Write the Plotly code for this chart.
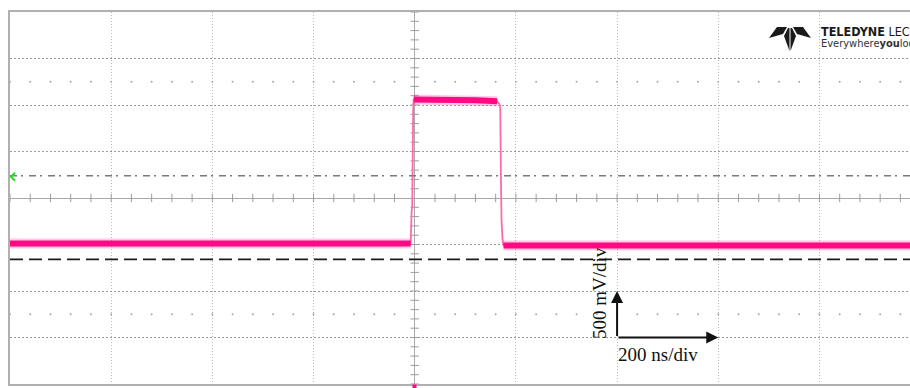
import plotly.graph_objects as go

# ---------------- data ----------------
# time in ns (200 ns/div), voltage in V (500 mV/div)
time_ns = [-800, -8.0, -6.0, -5.0, -3.0, -2.0, 60, 120, 163, 166, 169, 170.5, 171.5, 173.5, 175.5, 979]
volts   = [-0.49, -0.49, -0.13, -0.10, 0.95, 1.06, 1.06, 1.05, 1.04, 1.02, 0.99, 0.20, -0.23, -0.44, -0.51, -0.51]

# flat (noisy) portions of the trace, as index ranges into the arrays above
flat_segments = [(0, 1), (5, 8), (14, 15)]

ref_dashdot_v = 0.24     # dash-dot threshold line
ref_dashed_v = -0.66     # long-dashed reference line
scale_origin = (400, -1.5)   # (ns, V) corner of the scale arrows
ns_per_div = 200
v_per_div = 0.5
x_range = [-800, 979]
y_range = [-2.0, 2.0]
label_v = "500 mV/div"
label_t = "200 ns/div"

W, H = 910, 388
L, R, T, B = 10, 0, 12, 4

def paper_x(px):
    return (px - L) / (W - L - R)

def paper_y(py):
    return (H - B - py) / (H - T - B)

fig = go.Figure()

# minor ticks on the centre axes and dot rows
minor_t = [ns_per_div / 5 * k for k in range(-20, 25) if k != 0]
minor_v = [v_per_div / 5 * k for k in range(-20, 21) if k != 0]
fig.add_trace(go.Scatter(x=minor_t, y=[0] * len(minor_t), mode="markers",
                         marker=dict(symbol="line-ns", size=6, line=dict(width=1, color="#9c9c9c")),
                         hoverinfo="skip", showlegend=False))
fig.add_trace(go.Scatter(x=[0] * len(minor_v), y=minor_v, mode="markers",
                         marker=dict(symbol="line-ew", size=6, line=dict(width=1, color="#9c9c9c")),
                         hoverinfo="skip", showlegend=False))
for yv in (2.5 * v_per_div, -2.5 * v_per_div):
    fig.add_trace(go.Scatter(x=minor_t, y=[yv] * len(minor_t), mode="markers",
                             marker=dict(symbol="circle", size=2, color="#a8a8a8"),
                             hoverinfo="skip", showlegend=False))

# thin transitions (whole trace)
fig.add_trace(go.Scatter(x=time_ns, y=volts, mode="lines",
                         line=dict(color="#ff6aae", width=1.8),
                         hoverinfo="skip", showlegend=False))

# thick noisy flats
fx, fy = [], []
for a, b in flat_segments:
    fx += time_ns[a:b + 1] + [None]
    fy += volts[a:b + 1] + [None]
fig.add_trace(go.Scatter(x=fx, y=fy, mode="lines",
                         line=dict(color="rgba(255,10,130,0.22)", width=10),
                         hoverinfo="skip", showlegend=False))
fig.add_trace(go.Scatter(x=fx, y=fy, mode="lines",
                         line=dict(color="#ff0a82", width=6),
                         hoverinfo="skip", showlegend=False))

# reference lines
fig.add_shape(type="line", xref="paper", x0=0, x1=1, yref="y", y0=ref_dashdot_v, y1=ref_dashdot_v,
              line=dict(color="#7a7a7a", width=1.5, dash="7px,4px,2px,6px"))
fig.add_shape(type="line", xref="paper", x0=0, x1=1, yref="y", y0=ref_dashed_v, y1=ref_dashed_v,
              line=dict(color="#1c1c1c", width=1.8, dash="13px,6px"))

# green level marker at left
gy = paper_y(176.7)
fig.add_shape(type="path", xref="paper", yref="paper",
              path=f"M {paper_x(15)},{gy + 4/372} L {paper_x(11)},{gy} L {paper_x(15)},{gy - 4/372}",
              line=dict(color="#22dd22", width=2))

# trigger marker at bottom
fig.add_shape(type="rect", xref="paper", yref="paper",
              x0=paper_x(412.5), x1=paper_x(416.5), y0=paper_y(388), y1=paper_y(384.5),
              fillcolor="#ff0a82", line=dict(width=0))

# scale arrows
ox, oy = scale_origin
fig.add_annotation(x=ox, y=oy + v_per_div, ax=ox, ay=oy, xref="x", yref="y", axref="x", ayref="y",
                   showarrow=True, arrowhead=2, arrowsize=1.2, arrowwidth=2, arrowcolor="#111", text="")
fig.add_annotation(x=ox + ns_per_div, y=oy, ax=ox, ay=oy, xref="x", yref="y", axref="x", ayref="y",
                   showarrow=True, arrowhead=2, arrowsize=1.2, arrowwidth=2, arrowcolor="#111", text="")
serif = "Liberation Serif, Times New Roman, serif"
fig.add_annotation(x=paper_x(599), y=paper_y(293), xref="paper", yref="paper", text=label_v,
                   textangle=-90, xanchor="center", yanchor="middle", showarrow=False,
                   font=dict(family=serif, size=19, color="#111"))
fig.add_annotation(x=paper_x(616), y=paper_y(354), xref="paper", yref="paper", text=label_t,
                   xanchor="left", yanchor="middle", showarrow=False,
                   font=dict(family=serif, size=19, color="#111"))

# logo
logo_polys = [
    [(769, 38), (777, 27), (787, 27), (783, 34)],
    [(784, 36), (788, 28), (789.5, 28), (789.5, 51)],
]
for poly in logo_polys:
    for mirror in (False, True):
        pts = [((1580 - x) if mirror else x, y) for x, y in poly]
        path = "M " + " L ".join(f"{paper_x(x)},{paper_y(y)}" for x, y in pts) + " Z"
        fig.add_shape(type="path", xref="paper", yref="paper", path=path,
                      fillcolor="#1a1a1a", line=dict(width=0))
narrow = "Liberation Sans Narrow, DejaVu Sans Condensed, Arial Narrow, sans-serif"
fig.add_annotation(x=paper_x(819), y=paper_y(31.5), xref="paper", yref="paper",
                   text="<b>TELEDYNE</b> LECROY", xanchor="left", yanchor="middle", showarrow=False,
                   font=dict(family=narrow, size=12.5, color="#1a1a1a"))
fig.add_annotation(x=paper_x(819), y=paper_y(43.5), xref="paper", yref="paper",
                   text="Everywhere<b>you</b>look", xanchor="left", yanchor="middle", showarrow=False,
                   font=dict(family=narrow, size=11, color="#333"))

fig.update_layout(
    width=W, height=H, margin=dict(l=L, r=R, t=T, b=B),
    paper_bgcolor="white", plot_bgcolor="white",
    showlegend=False,
    xaxis=dict(range=x_range, tick0=0, dtick=ns_per_div, showticklabels=False, ticks="",
               showgrid=True, gridcolor="#b8b8b8", gridwidth=1, griddash="1px,2px",
               zeroline=True, zerolinecolor="#a9a9a9", zerolinewidth=1,
               showline=True, mirror=True, linecolor="#b0b0b0", linewidth=1.5, fixedrange=True),
    yaxis=dict(range=y_range, tick0=0, dtick=v_per_div, showticklabels=False, ticks="",
               showgrid=True, gridcolor="#9a9a9a", gridwidth=1, griddash="2px,2px",
               zeroline=True, zerolinecolor="#a9a9a9", zerolinewidth=1,
               showline=True, mirror=False, linecolor="#b0b0b0", linewidth=1.5, fixedrange=True),
)

fig.write_html("out.html", config={"displayModeBar": False},
               post_script="document.body.style.margin='0';document.body.style.overflow='hidden';")
